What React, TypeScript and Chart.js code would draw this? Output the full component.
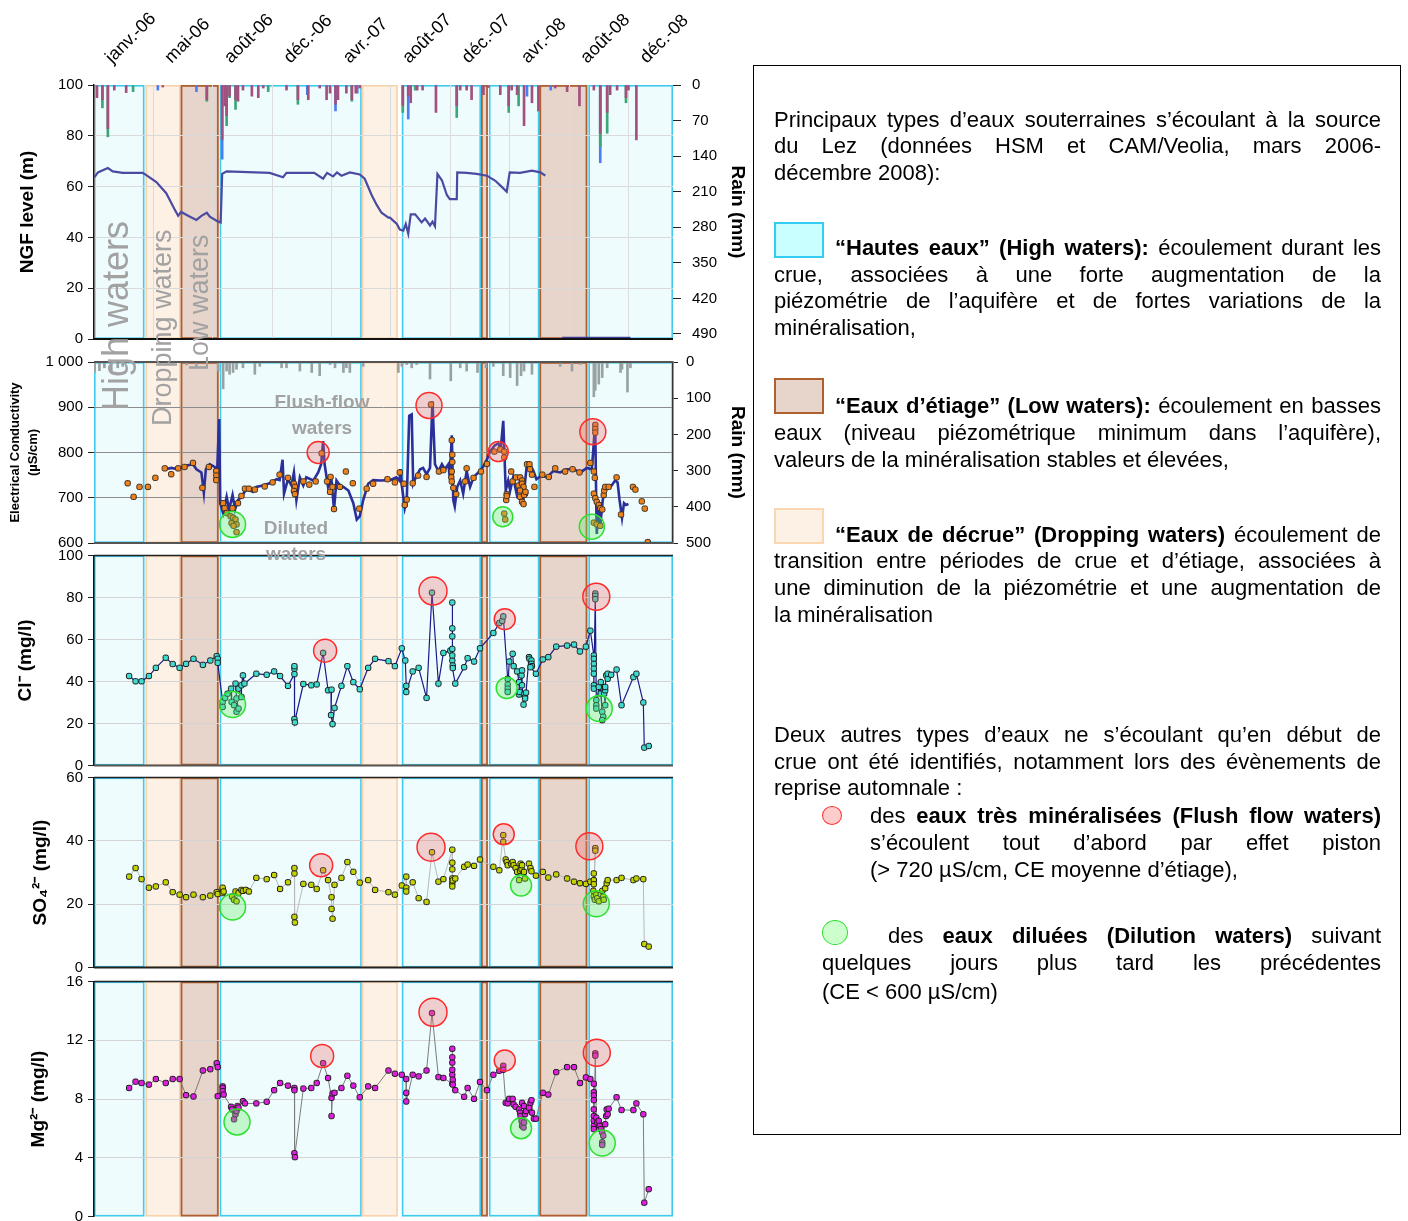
import React, { useEffect, useRef } from "react";
import { Chart, registerables } from "chart.js";

Chart.register(...registerables);

const FONT = "'Liberation Sans', Arial, Helvetica, sans-serif";
Chart.defaults.font.family = FONT;
Chart.defaults.font.size = 15;
Chart.defaults.color = "#000";

/* ---------------- time axis (days counted from 1 January 2006) ---------------- */
const axisStartDay = 0;
const axisEndDay = 1170;
const dateTickDays = [0, 120, 240, 360, 480, 600, 720, 840, 960, 1080];
const dateTickLabels = ["janv.-06", "mai-06", "août-06", "déc.-06", "avr.-07", "août-07", "déc.-07", "avr.-08", "août-08", "déc.-08"];

/* ---------------- hydrological periods [start day, end day] ---------------- */
const highWaterPeriods: [number, number][] = [[0, 102], [254, 541], [622, 782], [798, 900], [999, 1170]];
const droppingWaterPeriods: [number, number][] = [[104, 175], [541, 614]];
const lowWaterPeriods: [number, number][] = [[175, 252], [782, 796], [900, 997]];

/* ---------------- axis tick values ---------------- */
const levelTicks = [0, 20, 40, 60, 80, 100];
const rainTicksTop = [0, 70, 140, 210, 280, 350, 420, 490];
const ecTicks = [600, 700, 800, 900, 1000];
const rainTicksEc = [0, 100, 200, 300, 400, 500];
const clTicks = [0, 20, 40, 60, 80, 100];
const so4Ticks = [0, 20, 40, 60];
const mgTicks = [0, 4, 8, 12, 16];

/* ---------------- piezometric level (NGF, m) ---------------- */
const ngfDays = [1, 8, 28, 38, 58, 98, 102, 126, 146, 163, 170, 176, 193, 207, 217, 228, 234, 251, 256, 259, 268, 355, 382, 389, 420, 445, 463, 471, 483, 491, 500, 517, 537, 547, 561, 571, 581, 595, 598, 612, 618, 625, 630, 635, 640, 649, 662, 669, 679, 684, 689, 694, 703, 713, 719, 733, 734, 753, 773, 794, 811, 824, 834, 840, 861, 885, 902, 912];
const ngfLevel = [63.7, 65.6, 67.3, 66.0, 65.4, 65.4, 65.0, 61.8, 57.4, 51.0, 48.5, 50.0, 48.2, 46.9, 48.5, 49.7, 48.2, 46.2, 45.9, 65.0, 66.0, 65.4, 63.7, 65.4, 65.4, 65.4, 63.1, 65.4, 64.0, 65.6, 64.3, 65.6, 64.8, 63.1, 56.7, 52.9, 49.7, 47.8, 47.8, 45.3, 43.1, 42.7, 45.3, 41.5, 49.1, 49.1, 45.9, 47.4, 44.7, 46.2, 44.4, 65.0, 62.5, 56.7, 55.1, 55.1, 65.6, 65.4, 65.0, 64.3, 62.3, 59.9, 58.0, 65.6, 65.4, 66.3, 65.6, 64.3];
const ngfLateDays = [946, 1084];
const ngfLateLevel = [0.5, 0.5];

/* ---------------- rainfall (mm), top panel: three gauges ---------------- */
const rainGaugeA: [number, number][] = [[6, 25], [17, 29], [28, 86], [41, 10], [65, 15], [139, 4], [228, 29], [259, 108], [264, 41], [268, 60], [274, 22], [286, 29], [291, 32], [301, 10], [319, 22], [332, 25], [342, 6], [389, 10], [412, 29], [433, 29], [456, 6], [470, 29], [477, 16], [488, 38], [493, 29], [510, 16], [521, 29], [529, 16], [537, 6], [624, 40], [635, 22], [640, 35], [653, 10], [664, 10], [691, 54], [733, 41], [740, 10], [753, 10], [763, 29], [787, 19], [797, 5], [821, 19], [838, 41], [844, 10], [855, 19], [869, 80], [885, 35], [898, 51], [932, 6], [956, 13], [981, 41], [1010, 10], [1023, 95], [1037, 54], [1043, 19], [1057, 10], [1075, 25], [1080, 10], [1096, 108]];
const rainGaugeB: [number, number][] = [[17, 45], [28, 102], [79, 13], [228, 32], [268, 80], [274, 25], [286, 48], [352, 13], [412, 38], [521, 32], [624, 54], [649, 10], [733, 64], [838, 54], [858, 41], [1023, 121], [1037, 95], [1075, 35]];
const rainGaugeC: [number, number][] = [[129, 10], [207, 13], [259, 146], [431, 19], [488, 51], [532, 16], [635, 67], [875, 22], [923, 10], [1023, 153]];

/* ---------------- rainfall (mm), conductivity panel ---------------- */
const rainSpring: [number, number][] = [[1, 29], [11, 24], [21, 16], [35, 25], [48, 16], [58, 12], [187, 8], [207, 12], [251, 25], [261, 74], [268, 25], [274, 34], [281, 29], [288, 20], [301, 16], [325, 34], [335, 12], [379, 16], [389, 16], [416, 25], [440, 29], [456, 38], [477, 7], [487, 16], [504, 29], [510, 16], [517, 29], [544, 12], [615, 29], [622, 12], [632, 7], [642, 16], [652, 7], [679, 47], [721, 52], [740, 16], [753, 25], [775, 29], [792, 16], [807, 12], [827, 38], [841, 43], [855, 65], [863, 38], [869, 25], [885, 34], [942, 12], [966, 25], [983, 7], [1010, 96], [1013, 78], [1020, 61], [1027, 43], [1037, 16], [1064, 29], [1067, 20], [1078, 83], [1084, 16]];

/* ---------------- electrical conductivity (µS/cm) ---------------- */
const ecContinuous: [number, number][] = [[145, 763], [156, 766], [170, 763], [183, 770], [200, 774], [207, 763], [217, 756], [222, 711], [226, 763], [234, 774], [244, 768], [249, 763], [253, 874], [255, 688], [261, 666], [268, 702], [273, 674], [280, 706], [285, 674], [291, 695], [298, 702], [308, 720], [321, 713], [328, 724], [341, 727], [355, 732], [369, 741], [375, 739], [381, 784], [384, 709], [392, 741], [399, 727], [404, 756], [409, 695], [416, 745], [423, 727], [429, 745], [443, 738], [453, 756], [459, 774], [463, 825], [466, 774], [473, 724], [480, 738], [485, 674], [490, 738], [497, 727], [504, 724], [514, 716], [524, 688], [531, 652], [537, 659], [544, 695], [554, 731], [564, 739], [578, 738], [598, 739], [611, 745], [617, 738], [620, 763], [622, 727], [628, 677], [632, 695], [637, 881], [642, 884], [645, 731], [652, 749], [659, 763], [665, 766], [672, 752], [679, 766], [684, 913], [689, 774], [696, 759], [703, 774], [709, 763], [716, 774], [719, 745], [723, 838], [726, 695], [729, 681], [734, 724], [740, 738], [746, 709], [753, 759], [760, 724], [767, 745], [773, 752], [780, 759], [787, 770], [794, 784], [800, 802], [810, 816], [817, 820], [822, 809], [827, 870], [832, 716], [837, 738], [841, 716], [847, 745], [854, 709], [861, 738], [868, 702], [874, 766], [881, 774], [888, 759], [894, 741], [904, 749], [915, 745], [928, 759], [942, 756], [955, 763], [969, 763], [983, 756], [996, 766], [1006, 763], [1011, 838], [1013, 845], [1015, 681], [1016, 620], [1019, 681], [1023, 638], [1028, 695], [1033, 716], [1040, 724], [1046, 727], [1053, 738], [1058, 734], [1062, 695], [1067, 656], [1071, 688], [1075, 684], [1080, 686]];
const ecLabSamples: [number, number][] = [[68, 732], [80, 702], [92, 724], [109, 724], [124, 744], [143, 765], [156, 752], [170, 765], [183, 768], [200, 777], [219, 722], [232, 768], [247, 759], [247, 749], [247, 739], [261, 688], [264, 677], [268, 666], [276, 659], [281, 656], [286, 652], [278, 644], [288, 641], [282, 638], [288, 624], [280, 677], [291, 688], [298, 704], [305, 720], [313, 720], [325, 718], [345, 725], [361, 734], [375, 751], [392, 744], [404, 731], [406, 724], [404, 715], [406, 708], [423, 736], [435, 729], [448, 736], [460, 798], [471, 736], [478, 746], [477, 713], [482, 724], [485, 675], [497, 724], [509, 758], [523, 732], [536, 676], [551, 720], [564, 731], [593, 741], [608, 734], [618, 756], [626, 731], [628, 684], [632, 696], [644, 732], [655, 749], [672, 746], [681, 906], [697, 758], [706, 761], [723, 827], [724, 795], [724, 779], [723, 758], [722, 745], [723, 736], [726, 722], [732, 708], [750, 736], [753, 765], [767, 744], [782, 758], [794, 775], [809, 802], [821, 807], [829, 802], [829, 789], [834, 708], [833, 695], [834, 704], [843, 758], [846, 736], [829, 665], [831, 652], [853, 745], [858, 727], [861, 745], [865, 738], [865, 731], [868, 724], [861, 716], [871, 709], [875, 774], [880, 774], [881, 763], [885, 751], [890, 724], [861, 702], [865, 691], [868, 686], [869, 706], [872, 713], [906, 751], [919, 746], [932, 765], [952, 758], [967, 763], [981, 756], [1003, 777], [1010, 758], [1013, 861], [1013, 852], [1013, 844], [1012, 744], [1010, 709], [1013, 699], [1016, 691], [1020, 684], [1023, 677], [1027, 674], [1030, 706], [1031, 716], [1010, 645], [1016, 641], [1023, 638], [1033, 724], [1040, 724], [1056, 745], [1065, 663], [1089, 724], [1094, 718], [1107, 692], [1113, 676], [1119, 602]];

/* ---------------- chloride (mg/l) ---------------- */
const chlorideSamples: [number, number][] = [[71, 42.6], [84, 40.1], [96, 40.1], [111, 42.6], [125, 46.5], [145, 51.3], [159, 48.3], [173, 46.5], [186, 48.4], [201, 50.8], [220, 47.9], [235, 50.0], [248, 52.1], [250, 50.8], [250, 48.9], [260, 30.3], [260, 27.9], [265, 32.2], [270, 34.2], [277, 36.6], [278, 30.3], [283, 28.7], [288, 25.6], [292, 27.1], [288, 31.9], [286, 39.0], [292, 36.6], [298, 32.6], [298, 38.2], [301, 42.9], [304, 39.0], [328, 43.7], [349, 43.2], [364, 44.8], [376, 42.6], [392, 37.9], [405, 43.5], [405, 46.1], [405, 47.3], [405, 22.1], [406, 20.5], [423, 38.8], [439, 38.2], [450, 38.6], [463, 53.6], [473, 35.8], [480, 36.1], [479, 24.0], [482, 19.7], [486, 27.4], [500, 37.9], [512, 47.3], [524, 39.7], [537, 36.3], [554, 46.5], [568, 50.8], [595, 49.7], [608, 47.3], [622, 55.8], [629, 50.0], [631, 37.9], [631, 35.0], [644, 44.8], [656, 46.5], [672, 32.2], [683, 82.3], [696, 39.0], [706, 53.6], [720, 54.7], [724, 50.0], [724, 52.4], [724, 55.5], [724, 61.5], [724, 65.3], [724, 77.6], [725, 47.6], [725, 46.4], [730, 39.0], [748, 46.8], [755, 51.1], [768, 49.5], [780, 55.8], [807, 63.1], [819, 67.8], [825, 68.9], [827, 71.0], [836, 41.3], [836, 38.5], [836, 36.6], [836, 35.0], [839, 49.5], [846, 53.2], [848, 47.3], [855, 44.8], [859, 39.7], [859, 33.8], [860, 35.0], [864, 42.9], [865, 45.3], [865, 38.2], [868, 29.0], [869, 33.8], [871, 32.6], [871, 31.9], [873, 34.7], [879, 51.6], [880, 50.8], [884, 50.0], [884, 48.4], [885, 47.3], [882, 46.8], [893, 43.7], [907, 50.5], [918, 51.6], [934, 56.6], [956, 57.1], [970, 57.6], [982, 54.3], [994, 56.6], [1003, 64.2], [1010, 52.4], [1010, 50.8], [1010, 48.4], [1010, 46.1], [1010, 43.7], [1010, 38.2], [1010, 36.6], [1013, 81.9], [1013, 80.8], [1013, 79.2], [1015, 31.1], [1015, 28.7], [1015, 27.1], [1020, 37.4], [1024, 34.2], [1027, 25.6], [1029, 23.2], [1027, 21.6], [1024, 39.7], [1031, 34.2], [1033, 28.7], [1033, 35.8], [1033, 37.4], [1035, 42.9], [1038, 41.3], [1038, 43.7], [1045, 43.2], [1056, 45.7], [1066, 28.7], [1090, 42.1], [1096, 43.7], [1110, 30.0], [1112, 8.5], [1121, 9.3]];

/* ---------------- sulfate (mg/l) ---------------- */
const sulfateSamples: [number, number][] = [[71, 28.7], [84, 31.4], [96, 27.9], [111, 25.2], [125, 25.6], [145, 26.9], [159, 23.8], [173, 23.0], [186, 22.2], [201, 23.0], [220, 22.2], [235, 22.7], [248, 23.8], [250, 23.2], [260, 24.5], [260, 25.2], [260, 23.5], [262, 24.0], [279, 22.4], [283, 21.4], [286, 24.0], [288, 20.9], [292, 23.5], [298, 24.5], [301, 24.2], [307, 24.5], [313, 24.0], [328, 28.3], [349, 27.9], [364, 29.2], [376, 24.8], [392, 26.9], [405, 29.7], [405, 31.4], [405, 16.0], [406, 14.2], [423, 26.4], [439, 26.1], [450, 24.8], [463, 30.7], [473, 27.6], [480, 22.2], [480, 18.5], [482, 15.4], [486, 26.1], [500, 28.3], [512, 33.3], [524, 30.2], [537, 26.8], [554, 27.6], [568, 24.5], [595, 23.8], [608, 23.0], [622, 25.9], [631, 28.7], [631, 25.2], [631, 24.0], [644, 26.9], [656, 21.9], [672, 20.7], [683, 36.4], [696, 27.1], [706, 27.9], [724, 37.2], [724, 33.1], [724, 31.0], [724, 28.1], [724, 26.6], [724, 25.6], [725, 27.5], [730, 28.1], [748, 31.8], [755, 32.5], [768, 32.1], [780, 34.1], [807, 31.8], [819, 30.7], [827, 41.8], [827, 39.7], [832, 34.1], [834, 33.3], [836, 32.3], [843, 32.8], [846, 33.3], [848, 32.3], [852, 31.4], [855, 30.2], [859, 27.6], [861, 30.5], [862, 32.8], [864, 31.0], [865, 32.3], [868, 30.0], [869, 30.2], [871, 28.1], [879, 32.8], [882, 31.4], [884, 30.4], [893, 29.0], [907, 30.2], [918, 28.4], [934, 29.4], [956, 28.1], [970, 27.1], [982, 26.6], [994, 26.4], [1003, 27.1], [1009, 24.2], [1010, 29.7], [1010, 27.6], [1010, 26.3], [1013, 37.7], [1013, 36.9], [1010, 22.4], [1012, 21.4], [1015, 23.0], [1017, 21.9], [1020, 20.9], [1024, 23.2], [1027, 24.2], [1029, 22.4], [1030, 21.4], [1033, 25.0], [1036, 26.6], [1038, 27.6], [1056, 27.6], [1066, 28.3], [1090, 27.6], [1096, 28.1], [1110, 27.9], [1112, 7.4], [1121, 6.6]];

/* ---------------- magnesium (mg/l) ---------------- */
const magnesiumSamples: [number, number][] = [[71, 8.75], [84, 9.18], [96, 9.09], [111, 8.98], [125, 9.36], [145, 9.09], [159, 9.36], [173, 9.36], [186, 8.26], [201, 8.17], [220, 9.94], [235, 10.03], [248, 10.44], [250, 10.17], [250, 8.19], [260, 8.86], [260, 8.75], [260, 8.53], [262, 8.30], [277, 7.47], [279, 7.29], [283, 6.62], [286, 6.96], [288, 7.18], [290, 7.52], [292, 7.41], [301, 7.85], [305, 7.70], [328, 7.70], [349, 7.81], [364, 8.60], [376, 9.09], [392, 8.91], [405, 8.75], [405, 8.60], [405, 4.31], [406, 4.04], [423, 8.71], [439, 8.75], [450, 9.09], [463, 10.44], [473, 9.43], [480, 8.08], [480, 6.84], [482, 8.37], [486, 8.42], [500, 8.75], [512, 9.58], [524, 8.91], [537, 8.12], [554, 8.86], [568, 8.75], [595, 9.94], [608, 9.72], [622, 9.65], [631, 9.36], [631, 8.42], [631, 7.83], [644, 9.65], [656, 9.54], [672, 9.94], [683, 13.85], [696, 9.49], [706, 9.43], [724, 9.04], [724, 9.65], [724, 9.99], [724, 10.48], [724, 10.84], [724, 11.42], [725, 9.31], [725, 8.98], [730, 8.60], [748, 8.15], [755, 8.75], [768, 8.01], [780, 9.16], [794, 8.60], [807, 9.65], [819, 9.92], [827, 10.26], [827, 9.99], [832, 7.74], [836, 7.70], [839, 8.01], [846, 8.01], [848, 7.63], [852, 7.47], [859, 7.29], [861, 7.07], [862, 6.84], [864, 6.51], [865, 6.17], [868, 6.06], [869, 6.40], [871, 6.96], [873, 7.18], [865, 7.74], [869, 7.52], [879, 7.41], [882, 7.74], [884, 7.92], [885, 7.07], [889, 6.66], [893, 6.66], [907, 8.42], [918, 8.30], [934, 9.83], [956, 10.17], [970, 10.17], [982, 9.09], [994, 9.47], [1003, 9.36], [1010, 9.04], [1010, 8.46], [1010, 8.24], [1010, 7.92], [1010, 7.29], [1010, 6.84], [1010, 6.51], [1010, 6.17], [1010, 5.95], [1013, 11.11], [1013, 10.95], [1015, 6.73], [1017, 6.40], [1020, 6.51], [1022, 6.17], [1024, 5.95], [1027, 5.72], [1027, 5.05], [1027, 4.87], [1029, 5.50], [1033, 6.28], [1035, 6.84], [1036, 7.29], [1038, 6.96], [1040, 7.34], [1056, 8.12], [1066, 7.25], [1090, 7.25], [1096, 7.70], [1110, 6.96], [1112, 0.94], [1121, 1.86]];

/* ---------------- flush-flow / diluted water markers (day, value) ---------------- */
const ecFlushMarks: [number, number][] = [[453, 800], [677, 904], [817, 802], [1008, 846]];
const ecDilutedMarks: [number, number][] = [[280, 641], [826, 658], [1006, 636]];
const clFlushMarks: [number, number][] = [[467, 54.7], [685, 83.1], [830, 69.7], [1015, 80.4]];
const clDilutedMarks: [number, number][] = [[280, 29.0], [834, 36.9], [1021, 27.1]];
const so4FlushMarks: [number, number][] = [[459, 32.3], [681, 38.0], [828, 42.1], [1001, 38.3]];
const so4DilutedMarks: [number, number][] = [[280, 19.1], [863, 25.9], [1015, 20.1]];
const mgFlushMarks: [number, number][] = [[461, 10.93], [685, 13.91], [830, 10.62], [1016, 11.15]];
const mgDilutedMarks: [number, number][] = [[289, 6.44], [863, 6.01], [1027, 5.0]];

/* ================= styling / layout ================= */
const PLOT_LEFT = 94;
const PLOT_RIGHT = 673;
const CANVAS_W = 760;
const PAD_V = 14;
const POINT_R = 3.1;
const flushRadiusPx = [11.5, 14, 10.5, 13.5];
const dilutedRadiusPx = [13, 10.5, 13];

const periodStyles = {
  high: { fill: "#effcfe", stroke: "#3fcaef", width: 1.6 },
  dropping: { fill: "#fdf1e6", stroke: "#f8d2ab", width: 1.6 },
  low: { fill: "#e7d4cb", stroke: "#b0602f", width: 1.8 },
};

const periodBandsPlugin = {
  id: "periodBands",
  beforeDraw(chart: any) {
    const { ctx, chartArea: a, scales } = chart;
    const x = scales.x;
    ctx.save();
    ctx.fillStyle = "#ffffff";
    ctx.fillRect(a.left, a.top, a.right - a.left, a.bottom - a.top);
    const groups: [[number, number][], any][] = [
      [highWaterPeriods, periodStyles.high],
      [droppingWaterPeriods, periodStyles.dropping],
      [lowWaterPeriods, periodStyles.low],
    ];
    for (const [spans, st] of groups) {
      for (const [s, e] of spans) {
        const x0 = x.getPixelForValue(s);
        const x1 = x.getPixelForValue(e);
        ctx.fillStyle = st.fill;
        ctx.fillRect(x0, a.top, x1 - x0, a.bottom - a.top);
      }
    }
    for (const [spans, st] of groups) {
      for (const [s, e] of spans) {
        const x0 = x.getPixelForValue(s);
        const x1 = x.getPixelForValue(e);
        ctx.strokeStyle = st.stroke;
        ctx.lineWidth = st.width;
        ctx.strokeRect(x0 + st.width / 2, a.top + st.width / 2, x1 - x0 - st.width, a.bottom - a.top - st.width);
      }
    }
    ctx.restore();
  },
  afterDatasetsDraw(chart: any, _args: any, opts: any) {
    const f = opts && opts.frame;
    if (!f) return;
    const { ctx, chartArea: a } = chart;
    ctx.save();
    const line = (y: number, c: string, w: number) => {
      ctx.strokeStyle = c;
      ctx.lineWidth = w;
      ctx.beginPath();
      ctx.moveTo(a.left, y);
      ctx.lineTo(a.right, y);
      ctx.stroke();
    };
    if (f.top) line(a.top, f.top, f.topWidth || 1.5);
    if (f.bottom) line(a.bottom, f.bottom, f.bottomWidth || 2);
    ctx.restore();
  },
};

const xy = (pairs: [number, number][]) => pairs.map(([x, y]) => ({ x, y }));

const hiddenTimeAxis = () => ({ type: "linear", min: axisStartDay, max: axisEndDay, offset: false, display: false, grid: { offset: false } });

function valueAxis(o: any) {
  return {
    type: "linear",
    position: "left",
    min: o.min,
    max: o.max,
    afterBuildTicks: (s: any) => {
      s.ticks = o.ticks.map((v: number) => ({ value: v }));
    },
    afterFit: (s: any) => {
      s.width = PLOT_LEFT;
    },
    ticks: { font: { size: 15 }, color: "#000", padding: 5, callback: o.fmt || ((v: any) => String(v)) },
    grid: {
      color: (c: any) => (c.tick && (c.tick.value === o.min || c.tick.value === o.max) ? "rgba(0,0,0,0)" : o.gridColor),
      lineWidth: o.gridWidth || 1,
      tickColor: "#222",
      tickLength: 6,
    },
    border: { display: o.border !== false, color: "#111", width: 1.5 },
    title: {
      display: true,
      text: o.title,
      color: "#000",
      font: { size: o.titleSize || 19, weight: "bold", lineHeight: o.titleLineHeight || 1.2 },
      padding: { top: o.titlePad, bottom: 0 },
    },
  };
}

function rainAxis(o: any) {
  return {
    type: "linear",
    position: "right",
    min: 0,
    max: 500,
    reverse: true,
    afterBuildTicks: (s: any) => {
      s.ticks = o.ticks.map((v: number) => ({ value: v }));
    },
    afterFit: (s: any) => {
      s.width = CANVAS_W - PLOT_RIGHT;
    },
    ticks: { font: { size: 15 }, color: "#000", padding: o.pad },
    grid: { drawOnChartArea: false, color: "#222", tickColor: "#222", tickLength: o.tickLen },
    border: { display: !!o.border, color: "#333", width: 1.5 },
    title: { display: true, text: "Rain (mm)", color: "#000", font: { size: 19, weight: "bold" }, padding: { top: 11, bottom: 0 } },
  };
}

function baseOptions(scales: any, padding: any, frame: any) {
  return {
    responsive: false,
    maintainAspectRatio: false,
    animation: false,
    devicePixelRatio: 1,
    events: [],
    layout: { padding },
    plugins: { legend: { display: false }, tooltip: { enabled: false }, periodBands: { frame } },
    scales,
  };
}

function rainBars(label: string, pairs: [number, number][], color: string, order: number) {
  return { type: "bar", label, data: xy(pairs), yAxisID: "yRain", backgroundColor: color, barThickness: 2, grouped: false, order };
}

function sampleSeries(label: string, pairs: [number, number][], pointColor: string, lineColor: string, lineWidth: number) {
  return {
    type: "line",
    label,
    data: xy(pairs),
    yAxisID: "y",
    borderColor: lineColor,
    borderWidth: lineWidth,
    pointStyle: "rectRounded",
    pointRadius: POINT_R,
    pointBackgroundColor: pointColor,
    pointBorderColor: "#1b1b1b",
    pointBorderWidth: 1,
    tension: 0,
    order: 3,
  };
}

function markerCircles(label: string, centres: [number, number][], radii: number[], kind: "flush" | "diluted") {
  return {
    type: "bubble",
    label,
    data: centres.map(([x, y], i) => ({ x, y, r: radii[i] })),
    yAxisID: "y",
    backgroundColor: kind === "flush" ? "rgba(236,110,110,0.32)" : "rgba(100,236,100,0.32)",
    borderColor: kind === "flush" ? "#ff2b2b" : "#2ee02e",
    borderWidth: 1.5,
    order: 0,
  };
}

/* ---------------- chart configurations ---------------- */
function levelChart() {
  return {
    type: "line",
    data: {
      datasets: [
        { type: "line", label: "Niveau NGF", data: ngfDays.map((d, i) => ({ x: d, y: ngfLevel[i] })), yAxisID: "y", borderColor: "#4a4aa2", borderWidth: 2.2, pointRadius: 0, order: 0 },
        { type: "line", label: "Niveau NGF (fin)", data: ngfLateDays.map((d, i) => ({ x: d, y: ngfLateLevel[i] })), yAxisID: "y", borderColor: "#3b3b92", borderWidth: 2.2, pointRadius: 0, order: 0 },
        rainBars("Pluie A", rainGaugeA, "#a3507f", 1),
        rainBars("Pluie B", rainGaugeB, "#3ba676", 2),
        rainBars("Pluie C", rainGaugeC, "#4a7ef2", 3),
      ],
    },
    options: baseOptions(
      {
        x: {
          type: "linear",
          position: "top",
          min: axisStartDay,
          max: axisEndDay,
          offset: false,
          afterBuildTicks: (s: any) => {
            s.ticks = dateTickDays.map((v) => ({ value: v }));
          },
          afterFit: (s: any) => {
            s.height = 85;
            s.paddingLeft = 0;
            s.paddingRight = 0;
          },
          ticks: {
            autoSkip: false,
            minRotation: 45,
            maxRotation: 45,
            font: { size: 18 },
            color: "#000",
            padding: 17,
            labelOffset: 30,
            callback: (_v: any, i: number) => dateTickLabels[i],
          },
          grid: { color: "#dcdcdc", drawTicks: false, offset: false },
          border: { display: false },
        },
        y: valueAxis({ min: 0, max: 100, ticks: levelTicks, title: "NGF level (m)", titlePad: 16, gridColor: "#dadada" }),
        yRain: rainAxis({ ticks: rainTicksTop, pad: 11, tickLen: 8, border: false }),
      },
      { left: 0, right: 0, top: 0, bottom: 12 },
      { bottom: "#111", bottomWidth: 2 }
    ),
    plugins: [periodBandsPlugin],
  };
}

function ecChart() {
  return {
    type: "line",
    data: {
      datasets: [
        markerCircles("Flush flow", ecFlushMarks, [11, 13, 10, 13], "flush"),
        markerCircles("Diluted", ecDilutedMarks, [13, 10, 12.5], "diluted"),
        {
          type: "scatter",
          label: "CE (prélèvements)",
          data: xy(ecLabSamples),
          yAxisID: "y",
          pointStyle: "rectRounded",
          pointRadius: POINT_R,
          pointBackgroundColor: "#f0821e",
          pointBorderColor: "#3a3020",
          pointBorderWidth: 1,
          order: 2,
        },
        { type: "line", label: "CE continue", data: xy(ecContinuous), yAxisID: "y", borderColor: "#2a2f9a", borderWidth: 2.6, pointRadius: 0, order: 3 },
        rainBars("Pluie", rainSpring, "#98a2a2", 5),
      ],
    },
    options: baseOptions(
      {
        x: hiddenTimeAxis(),
        y: valueAxis({
          min: 600,
          max: 1000,
          ticks: ecTicks,
          title: ["Electrical Conductivity", "(µS/cm)"],
          titleSize: 13,
          titleLineHeight: 1.4,
          titlePad: 6,
          gridColor: "#8c8c8c",
          border: false,
          fmt: (v: any) => (v === 1000 ? "1 000" : String(v)),
        }),
        yRain: rainAxis({ ticks: rainTicksEc, pad: 8, tickLen: 5, border: true }),
      },
      { left: 0, right: 0, top: PAD_V, bottom: PAD_V },
      { top: "#555", topWidth: 2, bottom: "#555", bottomWidth: 2 }
    ),
    plugins: [periodBandsPlugin],
  };
}

function chemistryChart(o: any) {
  return {
    type: "line",
    data: {
      datasets: [
        markerCircles("Flush flow", o.flush, flushRadiusPx, "flush"),
        markerCircles("Diluted", o.diluted, dilutedRadiusPx, "diluted"),
        sampleSeries(o.label, o.samples, o.pointColor, o.lineColor, o.lineWidth),
      ],
    },
    options: baseOptions(
      {
        x: hiddenTimeAxis(),
        y: valueAxis({ min: o.min, max: o.max, ticks: o.ticks, title: o.title, titlePad: o.titlePad, gridColor: "#d4d4d4" }),
      },
      { left: 0, right: CANVAS_W - PLOT_RIGHT, top: PAD_V, bottom: PAD_V },
      o.frame
    ),
    plugins: [periodBandsPlugin],
  };
}

const clChart = () =>
  chemistryChart({ label: "Cl-", samples: chlorideSamples, flush: clFlushMarks, diluted: clDilutedMarks, pointColor: "#3edbd0", lineColor: "#1a1a8a", lineWidth: 1.2, min: 0, max: 100, ticks: clTicks, title: "Cl⁻ (mg/l)", titlePad: 14, frame: { top: "#222", topWidth: 1.5, bottom: "#555", bottomWidth: 2 } });
const so4Chart = () =>
  chemistryChart({ label: "SO4", samples: sulfateSamples, flush: so4FlushMarks, diluted: so4DilutedMarks, pointColor: "#c4d400", lineColor: "#b9b9b9", lineWidth: 1, min: 0, max: 60, ticks: so4Ticks, title: "SO₄²⁻ (mg/l)", titlePad: 29, frame: { top: "#222", topWidth: 1.5, bottom: "#222", bottomWidth: 2 } });
const mgChart = () =>
  chemistryChart({ label: "Mg", samples: magnesiumSamples, flush: mgFlushMarks, diluted: mgDilutedMarks, pointColor: "#e01ee0", lineColor: "#7c7c7c", lineWidth: 1, min: 0, max: 16, ticks: mgTicks, title: "Mg²⁻ (mg/l)", titlePad: 27, frame: { top: "#222", topWidth: 1.5 } });

function ChartCanvas({ top, height, build }: { top: number; height: number; build: () => any }) {
  const ref = useRef<HTMLCanvasElement | null>(null);
  useEffect(() => {
    const chart = new Chart(ref.current as HTMLCanvasElement, build() as any);
    return () => chart.destroy();
  }, []);
  return <canvas ref={ref} width={CANVAS_W} height={height} style={{ position: "absolute", left: 0, top, width: CANVAS_W, height }} />;
}

/* ---------------- overlay labels ---------------- */
function VerticalLabel({ text, cx, bottom, size }: { text: string; cx: number; bottom: number; size: number }) {
  return (
    <div
      style={{
        position: "absolute",
        left: cx,
        top: bottom,
        transformOrigin: "0 0",
        transform: "rotate(-90deg) translateY(-50%)",
        whiteSpace: "nowrap",
        fontSize: size,
        lineHeight: 1,
        color: "#a2a2a2",
        fontFamily: FONT,
      }}
    >
      {text}
    </div>
  );
}

function CentredLabel({ text, cx, cy }: { text: string; cx: number; cy: number }) {
  return (
    <div style={{ position: "absolute", left: cx - 100, width: 200, top: cy - 11, height: 22, lineHeight: "22px", textAlign: "center", fontSize: 19, fontWeight: "bold", color: "#a2a2a2", fontFamily: FONT }}>
      {text}
    </div>
  );
}

const TEXT_SIZE = 22;
function TextLine({ y, x0, x1 = 1381, justify = true, children }: any) {
  return (
    <div
      style={{
        position: "absolute",
        left: x0,
        top: y - 15,
        width: x1 - x0,
        height: 27,
        lineHeight: "27px",
        fontSize: TEXT_SIZE,
        whiteSpace: "nowrap",
        textAlign: justify ? "justify" : "left",
        textAlignLast: justify ? "justify" : "left",
        color: "#000",
      } as any}
    >
      {children}
    </div>
  );
}

function SwatchBox({ top, fill, stroke }: { top: number; fill: string; stroke: string }) {
  return <div style={{ position: "absolute", left: 774, top, width: 46, height: 32, background: fill, border: `2px solid ${stroke}` }} />;
}

export default function App() {
  return (
    <div style={{ position: "absolute", left: 0, top: 0, width: 1408, height: 1221, overflow: "hidden", background: "#fff", fontFamily: FONT }}>
      <ChartCanvas top={0} height={359} build={levelChart} />
      <ChartCanvas top={359 - PAD_V} height={187 + 2 * PAD_V} build={ecChart} />
      <ChartCanvas top={554 - PAD_V} height={213 + 2 * PAD_V} build={clChart} />
      <ChartCanvas top={776 - PAD_V} height={193 + 2 * PAD_V} build={so4Chart} />
      <ChartCanvas top={980 - PAD_V} height={238 + 2 * PAD_V} build={mgChart} />

      <VerticalLabel text="High waters" cx={116} bottom={411} size={36} />
      <VerticalLabel text="Dropping waters" cx={162} bottom={426} size={27} />
      <VerticalLabel text="Low waters" cx={199} bottom={371} size={27} />
      <CentredLabel text="Flush-flow" cx={322} cy={402} />
      <CentredLabel text="waters" cx={322} cy={428} />
      <CentredLabel text="Diluted" cx={296} cy={528} />
      <CentredLabel text="waters" cx={296} cy={554} />

      <div style={{ position: "absolute", left: 753, top: 65, width: 646, height: 1068, border: "1.5px solid #000" }} />

      <TextLine y={121} x0={774}>Principaux types d’eaux souterraines s’écoulant à la source</TextLine>
      <TextLine y={147} x0={774}>du Lez (données HSM et CAM/Veolia, mars 2006-</TextLine>
      <TextLine y={174} x0={774} justify={false}>décembre 2008):</TextLine>

      <SwatchBox top={222} fill="#c9ffff" stroke="#35ccf2" />
      <TextLine y={249} x0={835}><b>“Hautes eaux” (High waters):</b> écoulement durant les</TextLine>
      <TextLine y={276} x0={774}>crue, associées à une forte augmentation de la</TextLine>
      <TextLine y={302} x0={774}>piézométrie de l’aquifère et de fortes variations de la</TextLine>
      <TextLine y={329} x0={774} justify={false}>minéralisation,</TextLine>

      <SwatchBox top={378} fill="#e7d4cb" stroke="#b0602f" />
      <TextLine y={407} x0={835}><b>“Eaux d’étiage” (Low waters):</b> écoulement en basses</TextLine>
      <TextLine y={434} x0={774}>eaux (niveau piézométrique minimum dans l’aquifère),</TextLine>
      <TextLine y={461} x0={774} justify={false}>valeurs de la minéralisation stables et élevées,</TextLine>

      <SwatchBox top={508} fill="#fdf1e6" stroke="#fad6b3" />
      <TextLine y={536} x0={835}><b>“Eaux de décrue” (Dropping waters)</b> écoulement de</TextLine>
      <TextLine y={562} x0={774}>transition entre périodes de crue et d’étiage, associées à</TextLine>
      <TextLine y={589} x0={774}>une diminution de la piézométrie et une augmentation de</TextLine>
      <TextLine y={616} x0={774} justify={false}>la minéralisation</TextLine>

      <TextLine y={736} x0={774}>Deux autres types d’eaux ne s’écoulant qu’en début de</TextLine>
      <TextLine y={763} x0={774}>crue ont été identifiés, notamment lors des évènements de</TextLine>
      <TextLine y={789} x0={774} justify={false}>reprise automnale :</TextLine>

      <div style={{ position: "absolute", left: 822, top: 806, width: 18, height: 17, borderRadius: "50%", background: "#ffcccc", border: "1.5px solid #ff3030" }} />
      <TextLine y={817} x0={870}>des <b>eaux très minéralisées (Flush flow waters)</b></TextLine>
      <TextLine y={844} x0={870}>s’écoulent tout d’abord par effet piston</TextLine>
      <TextLine y={871} x0={870} justify={false}>(&gt; 720 µS/cm, CE moyenne d’étiage),</TextLine>

      <div style={{ position: "absolute", left: 822, top: 920, width: 24, height: 23, borderRadius: "50%", background: "#ccffcc", border: "1.5px solid #33e033" }} />
      <TextLine y={937} x0={888}>des <b>eaux diluées (Dilution waters)</b> suivant</TextLine>
      <TextLine y={964} x0={822}>quelques jours plus tard les précédentes</TextLine>
      <TextLine y={993} x0={822} justify={false}>(CE &lt; 600 µS/cm)</TextLine>
    </div>
  );
}
